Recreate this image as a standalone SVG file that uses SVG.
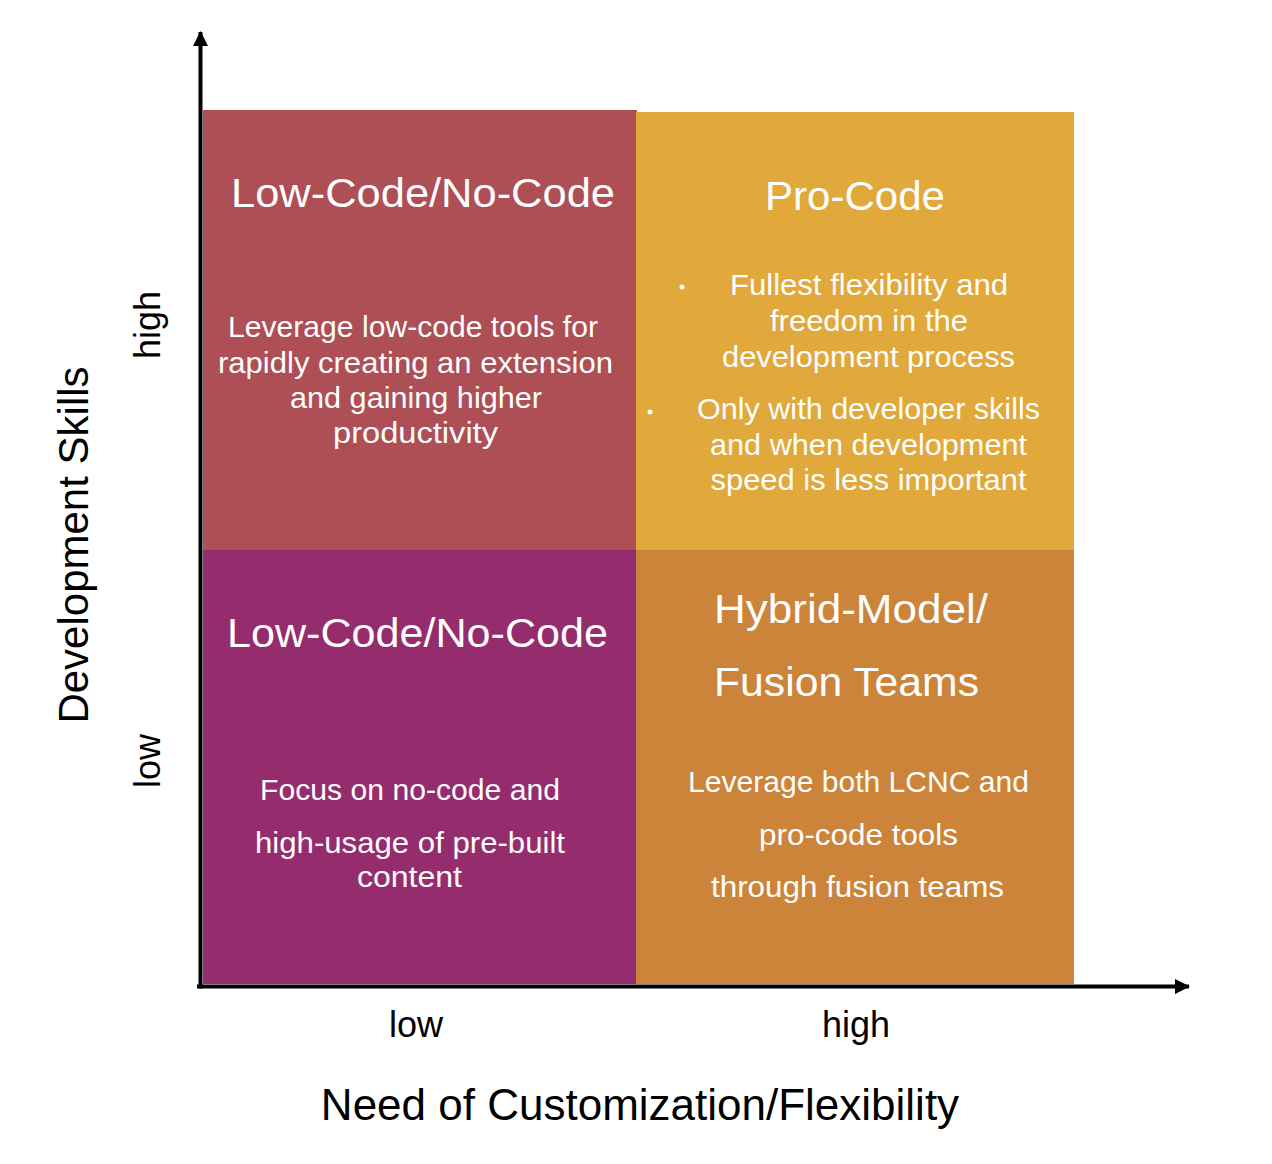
<svg xmlns="http://www.w3.org/2000/svg" width="1272" height="1164" viewBox="0 0 1272 1164">
  <style>
    text { font-family: "Liberation Sans", Arial, sans-serif; }
    .h { fill: #ffffff; font-size: 41px; }
    .b { fill: #ffffff; font-size: 29px; }
    .c { text-anchor: middle; }
    .ax { fill: #000000; font-size: 36px; text-anchor: middle; }
    .axt { fill: #000000; font-size: 44px; text-anchor: middle; }
    .axis { stroke: #000000; stroke-width: 4; fill: none; }
  </style>
  <defs>
    <marker id="arrow" viewBox="0 0 15 15" refX="14" refY="7.5" markerWidth="15" markerHeight="15" markerUnits="userSpaceOnUse" orient="auto">
      <path d="M0,0 L15,7.5 L0,15 Z" fill="#000000"/>
    </marker>
  </defs>
  <rect width="1272" height="1164" fill="#ffffff"/>

  <g id="q-top-left">
    <rect x="203" y="110" width="434" height="440" fill="#AD4F55"/>
    <text class="h c" x="423" y="207" textLength="384" lengthAdjust="spacingAndGlyphs">Low-Code/No-Code</text>
    <text class="b c" x="413" y="337" textLength="370" lengthAdjust="spacingAndGlyphs">Leverage low-code tools for</text>
    <text class="b c" x="415.5" y="372.5" textLength="395" lengthAdjust="spacingAndGlyphs">rapidly creating an extension</text>
    <text class="b c" x="416" y="408" textLength="252" lengthAdjust="spacingAndGlyphs">and gaining higher</text>
    <text class="b c" x="415.5" y="443" textLength="165" lengthAdjust="spacingAndGlyphs">productivity</text>
  </g>

  <g id="q-top-right">
    <rect x="636" y="112" width="438" height="438" fill="#E1A83B"/>
    <text class="h c" x="855" y="210" textLength="180" lengthAdjust="spacingAndGlyphs">Pro-Code</text>
    <circle cx="682" cy="287" r="2.5" fill="#ffffff"/>
    <text class="b c" x="869" y="295" textLength="278" lengthAdjust="spacingAndGlyphs">Fullest flexibility and</text>
    <text class="b c" x="869" y="331" textLength="198" lengthAdjust="spacingAndGlyphs">freedom in the</text>
    <text class="b c" x="868.5" y="367" textLength="293" lengthAdjust="spacingAndGlyphs">development process</text>
    <circle cx="650" cy="412" r="2.5" fill="#ffffff"/>
    <text class="b c" x="868.5" y="419" textLength="343" lengthAdjust="spacingAndGlyphs">Only with developer skills</text>
    <text class="b c" x="868.5" y="455" textLength="317" lengthAdjust="spacingAndGlyphs">and when development</text>
    <text class="b c" x="868.5" y="490" textLength="316" lengthAdjust="spacingAndGlyphs">speed is less important</text>
  </g>

  <g id="q-bottom-left">
    <rect x="203" y="550" width="434" height="434" fill="#952C6E"/>
    <text class="h c" x="417.5" y="647" textLength="381" lengthAdjust="spacingAndGlyphs">Low-Code/No-Code</text>
    <text class="b c" x="410" y="800" textLength="300" lengthAdjust="spacingAndGlyphs">Focus on no-code and</text>
    <text class="b c" x="410" y="853" textLength="310" lengthAdjust="spacingAndGlyphs">high-usage of pre-built</text>
    <text class="b c" x="409.5" y="887" textLength="105" lengthAdjust="spacingAndGlyphs">content</text>
  </g>

  <g id="q-bottom-right">
    <rect x="636" y="550" width="438" height="434" fill="#CC843A"/>
    <text class="h" x="714" y="623" textLength="274" lengthAdjust="spacingAndGlyphs">Hybrid-Model/</text>
    <text class="h" x="714" y="696" textLength="265" lengthAdjust="spacingAndGlyphs">Fusion Teams</text>
    <text class="b c" x="858.5" y="792" textLength="341" lengthAdjust="spacingAndGlyphs">Leverage both LCNC and</text>
    <text class="b c" x="858.5" y="845" textLength="199" lengthAdjust="spacingAndGlyphs">pro-code tools</text>
    <text class="b c" x="857.5" y="897" textLength="293" lengthAdjust="spacingAndGlyphs">through fusion teams</text>
  </g>

  <g id="connectors">
    <line class="axis" x1="200.5" y1="988.5" x2="200.5" y2="32" marker-end="url(#arrow)"/>
    <line class="axis" x1="197" y1="986.5" x2="1189" y2="986.5" marker-end="url(#arrow)"/>
  </g>

  <g id="axis-labels">
    <text class="ax" x="416" y="1037">low</text>
    <text class="ax" x="856" y="1037">high</text>
    <text class="axt" x="640" y="1120">Need of Customization/Flexibility</text>
    <text class="ax" transform="translate(160,325) rotate(-90)" x="0" y="0">high</text>
    <text class="ax" transform="translate(160,761) rotate(-90)" x="0" y="0">low</text>
    <text class="ax" style="font-size:42px" transform="translate(88,545) rotate(-90)" x="0" y="0">Development Skills</text>
  </g>
</svg>
